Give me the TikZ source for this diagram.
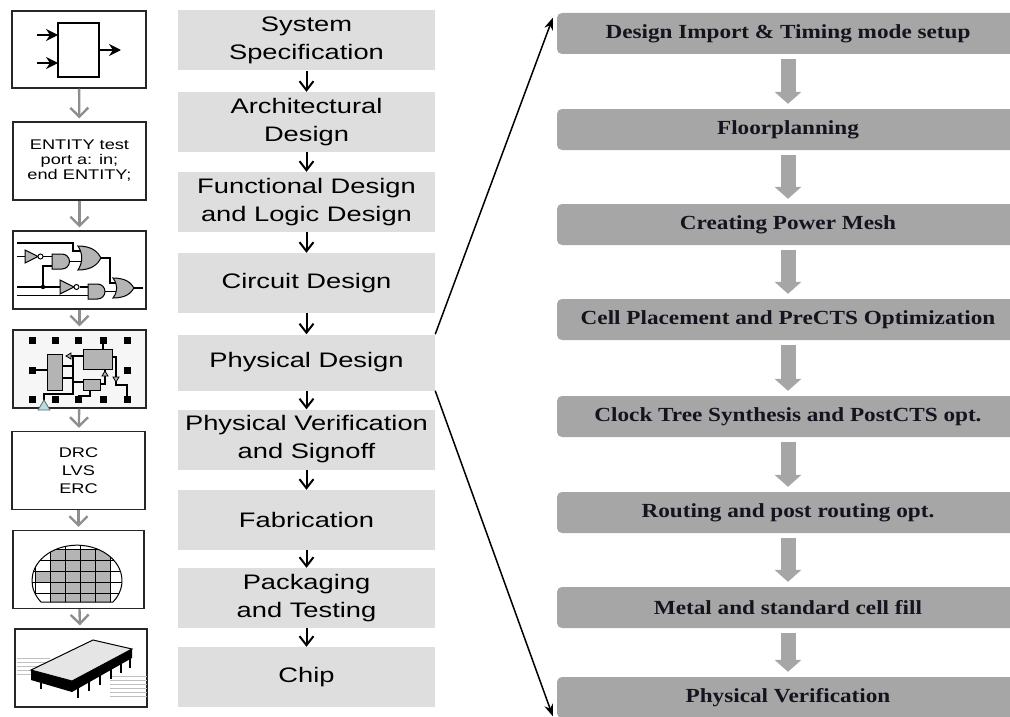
\documentclass[tikz,border=0pt]{standalone}
\usepackage{fontspec}
\setmainfont{Liberation Sans}
\newfontfamily\stagefont[FakeStretch=1.3]{Liberation Sans}
\newfontfamily\stepfont[FakeStretch=1.16]{Liberation Serif}
\usetikzlibrary{arrows.meta, positioning, calc}

\definecolor{stagefill}{HTML}{DEDEDE}
\definecolor{stepfill}{HTML}{A6A6A6}
\definecolor{linkgray}{HTML}{8E8E8E}
\definecolor{gatefill}{HTML}{B4B4B4}
\definecolor{padfill}{HTML}{F6F6F6}
\definecolor{bufblue}{HTML}{B5DEE4}
\definecolor{steptext}{HTML}{14141E}

\begin{document}
\begin{tikzpicture}[
  x=1pt, y=-1pt,
  stage/.style={fill=stagefill, minimum width=257pt, minimum height=60pt, inner sep=0pt,
    align=center, font=\stagefont\fontsize{21}{28}\selectfont},
  stepbox/.style={fill=stepfill, rounded corners=5pt, minimum width=462pt, minimum height=41pt,
    inner sep=0pt, text=steptext, font=\stepfont\bfseries\fontsize{20}{24}\selectfont},
  icon/.style={draw=black!85, line width=1.2pt, fill=white, minimum width=133pt, minimum height=78pt,
    inner sep=0pt, align=center, font=\stagefont\fontsize{14}{15}\selectfont},
  down/.style={-{Straight Barb[length=9pt 0 0,width=14pt 0 0,line width=2pt]}, line width=2pt},
  link/.style={draw=linkgray, -{Straight Barb[length=9pt 0 0,width=18pt 0 0,line width=2.4pt]}, line width=2.4pt, shorten >=3pt},
  fat/.style={draw=stepfill, line width=15pt, -{Triangle[length=12pt 0 0,width=27pt 0 0,line width=0pt]},
    shorten <=5pt, shorten >=5pt},
  fan/.style={-{Stealth[length=12pt 0 0,width=9pt 0 0]}, line width=1.5pt},
  wire/.style={line width=1.2pt},
  gate/.style={draw, line width=1pt, fill=gatefill},
  ]
  \useasboundingbox (0,0) rectangle (1010,717);

  % design flow
  \node[stage] (s1) at (306.5,40.5) {System\\Specification};
  \node[stage] (s2) at (306.5,122)  {Architectural\\Design};
  \node[stage] (s3) at (306.5,202)  {Functional Design\\and Logic Design};
  \node[stage] (s4) at (306.5,283)  {Circuit Design};
  \node[stage, minimum height=56pt] (s5) at (306.5,362.5) {Physical Design};
  \node[stage] (s6) at (306.5,439.5) {Physical Verification\\and Signoff};
  \node[stage] (s7) at (306.5,520)  {Fabrication};
  \node[stage] (s8) at (306.5,598)  {Packaging\\and Testing};
  \node[stage] (s9) at (306.5,677)  {Chip};
  \foreach \a/\b in {s1/s2,s2/s3,s3/s4,s4/s5,s5/s6,s6/s7,s7/s8,s8/s9}
    \draw[down] (\a) -- (\b);

  % physical design steps
  \node[stepbox] (p1) at (788,33.5)  {Design Import \& Timing mode setup};
  \node[stepbox] (p2) at (788,129.5) {Floorplanning};
  \node[stepbox] (p3) at (788,224.5) {Creating Power Mesh};
  \node[stepbox] (p4) at (788,319.5) {Cell Placement and PreCTS Optimization};
  \node[stepbox] (p5) at (788,416.5) {Clock Tree Synthesis and PostCTS opt.};
  \node[stepbox] (p6) at (788,512.5) {Routing and post routing opt.};
  \node[stepbox] (p7) at (788,607.5) {Metal and standard cell fill};
  \node[stepbox] (p8) at (788,697.5) {Physical Verification};
  \foreach \a/\b in {p1/p2,p2/p3,p3/p4,p4/p5,p5/p6,p6/p7,p7/p8}
    \draw[fat] (\a) -- (\b);

  \draw[fan] (s5.north east) -- ([shift={(-4,5)}]p1.north west);
  \draw[fan] (s5.south east) -- ([shift={(-4,-2)}]p8.south west);

  % icons
  \node[icon, minimum width=134pt, minimum height=77pt] (i1) at (79,49.5) {};
  \node[icon] (i2) at (79.5,161) {ENTITY test\\port a: in;\\end ENTITY;};
  \node[icon] (i3) at (79.5,270) {};
  \node[icon, fill=padfill] (i4) at (79.5,369) {};
  \node[icon, font=\stagefont\fontsize{14}{18}\selectfont] (i5) at (78.5,470.5) {DRC\\LVS\\ERC};
  \node[icon, minimum width=131pt] (i6) at (78.5,569.5) {};
  \node[icon, minimum width=132pt] (i7) at (81,668) {};
  \foreach \a/\b in {i1/i2,i2/i3,i3/i4,i4/i5,i5/i6,i6/i7}
    \draw[link] (\a) -- (\b);

  % block symbol
  \draw[line width=1.2pt] (58,23) rectangle (99,77);
  \draw[line width=1.5pt, -{Stealth[length=12pt 0 0,width=12pt 0 0,inset=4pt]}] (37,35) -- (58,35);
  \draw[line width=1.5pt, -{Stealth[length=12pt 0 0,width=12pt 0 0,inset=4pt]}] (37,63) -- (58,63);
  \draw[line width=1.5pt, -{Stealth[length=12pt 0 0,width=12pt 0 0,inset=4pt]}] (99,50) -- (121,50);

  % gate netlist
  \draw[wire] (17,243) -- (73,243) -- (73,251) -- (84,251);
  \draw[wire] (17,256.5) -- (25,256.5);
  \draw[wire] (43,256.5) -- (52,256.5);
  \draw[wire] (52,266) -- (43,266) -- (43,287);
  \draw[wire] (69,261.5) -- (84,261.5);
  \draw[wire] (100,258) -- (110,258) -- (110,283) -- (117,283);
  \draw[wire] (17,287) -- (60,287);
  \draw[wire] (80,287) -- (88,287);
  \draw[wire] (17,295.5) -- (88,295.5);
  \draw[wire] (105,291.5) -- (117,291.5);
  \draw[wire] (133,288) -- (143,288);
  \fill (43,287) circle (2.2pt);
  \draw[gate] (25,250) -- (38,256.5) -- (25,263) -- cycle;
  \draw[line width=1pt, fill=white] (40.5,256.5) circle (2.5pt);
  \draw[gate] (52,254) -- (62,254) arc[start angle=-90, end angle=90, radius=7.5] -- (52,269) -- cycle;
  \draw[gate] (78,246) .. controls (92,246) and (98,252) .. (101,258)
    .. controls (98,264) and (92,270) .. (78,270) .. controls (83,262) and (83,254) .. (78,246) -- cycle;
  \draw[gate] (60,280) -- (74,287) -- (60,294) -- cycle;
  \draw[line width=1pt, fill=white] (76.5,287) circle (2.5pt);
  \draw[gate] (88,284) -- (97.5,284) arc[start angle=-90, end angle=90, radius=7.5] -- (88,299) -- cycle;
  \draw[gate] (113,278) .. controls (126,278) and (131,283) .. (134,288)
    .. controls (131,293) and (126,298) .. (113,298) .. controls (118,291) and (118,285) .. (113,278) -- cycle;

  % cell layout
  \foreach \x in {32,55,78,103,127} {
    \fill (\x-3.5,336.5) rectangle ++(7,7);
    \fill (\x-3.5,395.5) rectangle ++(7,7);
  }
  \fill (28.5,366.5) rectangle ++(7,7);
  \fill (123.5,366.5) rectangle ++(7,7);
  \draw[wire] (32,370) -- (47,370);
  \draw[wire] (62,366) -- (73,366);
  \draw[wire] (62,378) -- (73,378);
  \draw[wire] (73,356) -- (73,394) -- (44,394) -- (44,401);
  \draw[wire] (71,356) -- (83,356);
  \draw[wire] (73,382) -- (83,382);
  \draw[wire] (103,340) -- (103,349);
  \draw[wire] (112,357) -- (116,357) -- (116,385) -- (127,385) -- (127,399);
  \draw[wire] (100,384) -- (105,384) -- (105,369);
  \draw[wire] (90,390) -- (90,396) -- (78,396);
  \draw[gate, line width=0.8pt] (47,354) rectangle (62,390);
  \draw[gate, line width=0.8pt] (83,349) rectangle (112,369);
  \draw[gate, line width=0.8pt] (83,379) rectangle (100,390);
  \draw[gate, line width=0.8pt] (66,356) -- (71,353) -- (71,359) -- cycle;
  \draw[gate, line width=0.8pt] (113,377) -- (119,377) -- (116,382) -- cycle;
  \draw[gate, line width=0.8pt] (102,376) -- (108,376) -- (105,371) -- cycle;
  \draw[draw=black!60, line width=0.8pt, fill=bufblue] (38,410) -- (50,410) -- (44,400) -- cycle;

  % wafer
  \begin{scope}
    \clip (113,602) arc[start angle=36.87, end angle=-216.87, x radius=45, y radius=35.5] -- cycle;
    \fill[gatefill] (50,549) rectangle (110,603);
    \fill[gatefill] (35,571) rectangle (50,582);
    \foreach \x in {35,50,...,110}
      \draw[line width=0.8pt] (\x,540) -- (\x,610);
    \foreach \y in {549,560,571,582,593}
      \draw[line width=0.8pt] (25,\y) -- (130,\y);
  \end{scope}
  \draw[line width=1pt] (113,602) arc[start angle=36.87, end angle=-216.87, x radius=45, y radius=35.5] -- cycle;

  % packaged chip
  \foreach \y in {658,662,...,674}
    \draw[black!25, line width=0.9pt] (17,\y) -- (50,\y);
  \foreach \y in {676,680,...,696}
    \draw[black!25, line width=0.9pt] (110,\y) -- (147,\y);
  \fill (31,670) -- (72,681) -- (132,649) -- (132,658) -- (72,692) -- (31,680) -- cycle;
  \foreach \x in {78,89,100,111,121,130}
    \draw[line width=2.2pt] (\x,{692-(\x-72)*34/60-1}) -- ++(0,10);
  \draw[line width=2.2pt] (41,682) -- (41,689);
  \draw[line width=1pt, fill=black!10] (31,670) -- (93,640) -- (132,649) -- (72,681) -- cycle;
\end{tikzpicture}
\end{document}
